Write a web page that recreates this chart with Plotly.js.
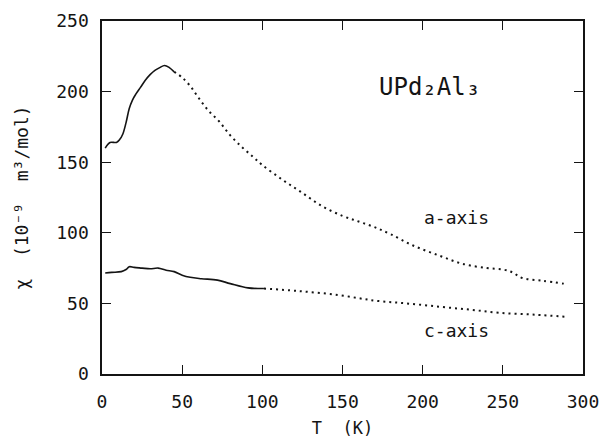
<!DOCTYPE html>
<html>
<head>
<meta charset="utf-8">
<script src="https://cdn.plot.ly/plotly-3.0.1.min.js"></script>
<style>html,body{margin:0;padding:0;background:#fff;}#chart{width:604px;height:439px;}</style>
</head>
<body>
<div id="chart"></div>
<script>
// a-axis susceptibility (10^-9 m^3/mol) vs temperature (K)
var T_a = [2, 5, 9, 11, 13, 15, 17, 19, 21, 24, 27, 30, 33, 36, 39, 42, 45, 50, 55, 60, 66, 73, 80, 87, 94, 100, 112, 124, 137, 150, 160, 170, 180, 194, 210, 225, 240, 250, 256, 262, 275, 288];
var chi_a = [160, 164, 164, 166, 170, 178, 188, 194, 198, 203, 208, 212, 215, 217, 218.5, 217, 214, 210, 204, 196, 187, 179, 169, 161, 154, 148, 138, 129, 119, 112, 108, 104, 99, 91, 84, 78, 75, 74, 72, 68, 66, 64];
// c-axis susceptibility
var T_c = [2, 6, 12, 15, 17, 20, 25, 30, 35, 40, 45, 50, 55, 62, 72, 80, 91, 101, 122, 147, 170, 190, 211, 230, 248, 270, 290];
var chi_c = [71.5, 72, 72.5, 74, 76, 75.5, 75, 74.5, 75, 73.5, 72.5, 70, 68.5, 67.5, 66.5, 64, 61, 60.5, 58.8, 56, 52, 50, 47.6, 45.5, 43.3, 42, 40.5];

var aSolidEnd = 45;   // solid trace up to this T, dotted after
var cSolidEnd = 101;

function part(T, v, lo, hi) {
  var x = [], y = [];
  for (var i = 0; i < T.length; i++) {
    if (T[i] >= lo && T[i] <= hi) { x.push(T[i]); y.push(v[i]); }
  }
  return {x: x, y: y};
}

var ink = '#141414';
var aS = part(T_a, chi_a, 0, aSolidEnd), aD = part(T_a, chi_a, aSolidEnd, 1000);
var cS = part(T_c, chi_c, 0, cSolidEnd), cD = part(T_c, chi_c, cSolidEnd, 1000);

var traces = [
  {x: aS.x, y: aS.y, mode: 'lines', line: {color: ink, width: 1.6, shape: 'spline'}, hoverinfo: 'skip'},
  {x: aD.x, y: aD.y, mode: 'lines', line: {color: ink, width: 2, dash: '2px,4px', shape: 'spline'}, hoverinfo: 'skip'},
  {x: cS.x, y: cS.y, mode: 'lines', line: {color: ink, width: 1.6, shape: 'spline'}, hoverinfo: 'skip'},
  {x: cD.x, y: cD.y, mode: 'lines', line: {color: ink, width: 2, dash: '2px,4px', shape: 'spline'}, hoverinfo: 'skip'}
];

var fam = 'DejaVu Sans Mono, monospace';
var fnt = {family: fam, size: 18, color: ink};

var layout = {
  width: 604, height: 439,
  margin: {l: 102, r: 21, t: 21, b: 65},
  paper_bgcolor: '#fff', plot_bgcolor: '#fff',
  showlegend: false,
  font: fnt,
  xaxis: {
    range: [0, 300], tick0: 0, dtick: 50,
    ticks: 'inside', ticklen: 9, tickwidth: 1.3, tickcolor: ink,
    showline: true, linecolor: ink, linewidth: 1.6, mirror: 'ticks',
    showgrid: false, zeroline: false, ticklabelstandoff: 11,
    tickfont: fnt,
    title: {text: 'T  (K)', font: {family: fam, size: 17, color: ink}, standoff: 11}
  },
  yaxis: {
    range: [0, 250], tick0: 0, dtick: 50,
    ticks: 'inside', ticklen: 9, tickwidth: 1.3, tickcolor: ink,
    showline: true, linecolor: ink, linewidth: 1.6, mirror: 'ticks',
    showgrid: false, zeroline: false, ticklabelstandoff: 8,
    tickfont: fnt,
    title: {text: 'χ  (10⁻⁹  m³/mol)', font: {family: fam, size: 18, color: ink}, standoff: 23}
  },
  annotations: [
    {x: 204, y: 203, xref: 'x', yref: 'y', showarrow: false, text: 'UPd₂Al₃', font: {family: fam, size: 24, color: ink}},
    {x: 221, y: 111, xref: 'x', yref: 'y', showarrow: false, text: 'a-axis', font: {family: fam, size: 18, color: ink}},
    {x: 221, y: 31, xref: 'x', yref: 'y', showarrow: false, text: 'c-axis', font: {family: fam, size: 18, color: ink}}
  ]
};

Plotly.newPlot('chart', traces, layout, {staticPlot: true, displayModeBar: false});
</script>
</body>
</html>
